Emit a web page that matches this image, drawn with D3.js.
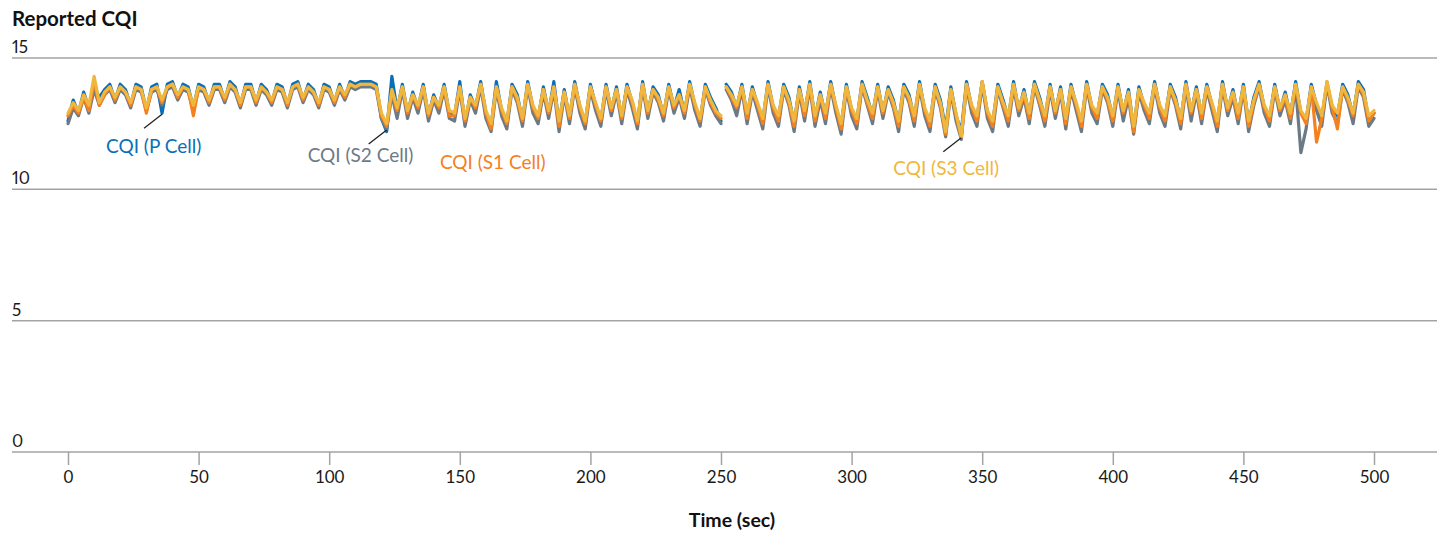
<!DOCTYPE html>
<html>
<head>
<meta charset="utf-8">
<script src="https://cdn.jsdelivr.net/npm/d3@7"></script>
<style>
  html, body { margin: 0; padding: 0; background: #fff; }
  svg { display: block; font-family: Lato, "Open Sans", sans-serif; }
</style>
</head>
<body>
<svg id="chart" width="1449" height="534"></svg>
<script>
// Sampling: one value every 2 s; the trace has a break between 250 s and 252 s.
const sampleStep = 2;
const segmentStarts = [0, 252];

const yTicks = [0, 5, 10, 15];
const xTicks = [0, 50, 100, 150, 200, 250, 300, 350, 400, 450, 500];

// CQI (P Cell)
const cqiP = [
  [12.6, 13.4, 12.9, 13.7, 13.1, 13.9, 13.5, 13.8, 14.0, 13.4,
   14.0, 13.8, 13.2, 14.0, 13.9, 13.0, 13.9, 14.0, 12.9, 14.0,
   14.1, 13.5, 14.0, 13.9, 13.1, 14.0, 13.9, 13.3, 14.0, 14.0,
   13.4, 14.1, 13.9, 13.2, 14.0, 14.0, 13.3, 14.0, 13.8, 13.3,
   14.0, 13.9, 13.2, 14.0, 14.1, 13.4, 14.0, 13.8, 13.2, 14.0,
   13.9, 13.3, 14.0, 13.5, 14.1, 14.0, 14.1, 14.1, 14.1, 14.0,
   12.7, 12.2, 14.3, 13.0, 14.0, 12.9, 13.7, 13.1, 14.0, 12.8,
   13.6, 13.1, 14.0, 12.9, 12.8, 14.1, 12.5, 13.6, 13.1, 14.1,
   12.9, 12.4, 14.1, 13.0, 12.5, 14.0, 13.6, 12.6, 14.1, 13.1,
   12.7, 13.9, 12.9, 14.1, 12.5, 13.8, 12.7, 14.1, 13.1, 12.5,
   14.0, 13.2, 12.6, 14.0, 13.0, 13.9, 12.7, 14.0, 13.3, 12.5,
   14.1, 12.9, 13.9, 13.6, 12.8, 14.0, 13.1, 13.8, 12.9, 14.1,
   13.2, 12.6, 14.0, 13.5, 13.1, 12.6],
  [14.0, 13.7, 13.1, 14.0, 12.8, 13.9, 13.2, 12.6, 14.1, 13.1,
   12.7, 14.0, 13.5, 12.5, 13.9, 12.9, 14.1, 12.7, 13.7, 12.8,
   14.1, 13.1, 12.4, 14.0, 13.0, 12.6, 14.1, 13.5, 12.8, 14.0,
   12.9, 13.9, 13.4, 12.5, 14.0, 13.6, 12.7, 14.1, 13.0, 12.5,
   14.0, 13.4, 12.3, 13.9, 12.8, 12.2, 14.1, 13.1, 12.7, 14.1,
   12.9, 12.5, 14.0, 13.4, 12.7, 14.1, 13.0, 13.8, 12.8, 14.1,
   13.5, 12.7, 14.0, 12.9, 13.9, 12.6, 14.0, 13.2, 12.5, 14.1,
   13.1, 12.8, 14.0, 13.6, 12.7, 14.0, 12.9, 13.8, 12.3, 13.9,
   13.2, 12.8, 14.1, 13.1, 12.7, 14.0, 13.5, 12.6, 14.1, 12.9,
   13.9, 12.8, 14.0, 13.2, 12.5, 14.1, 13.0, 13.8, 12.8, 14.0,
   12.5, 13.5, 14.1, 13.1, 12.7, 14.0, 13.0, 13.7, 12.8, 14.1,
   12.9, 12.6, 14.0, 13.2, 12.7, 14.0, 13.1, 12.8, 14.0, 13.6,
   12.8, 14.1, 13.8, 12.6, 12.9]
];

// CQI (S2 Cell)
const cqiS2 = [
  [12.5, 13.1, 12.8, 13.5, 12.9, 13.8, 13.2, 13.6, 13.8, 13.3,
   13.8, 13.6, 13.1, 13.8, 13.7, 13.0, 13.7, 13.8, 13.2, 13.8,
   13.9, 13.4, 13.8, 13.7, 13.0, 13.8, 13.7, 13.2, 13.8, 13.8,
   13.3, 13.9, 13.7, 13.1, 13.8, 13.8, 13.2, 13.8, 13.6, 13.2,
   13.8, 13.7, 13.1, 13.8, 13.9, 13.3, 13.8, 13.6, 13.1, 13.8,
   13.7, 13.2, 13.8, 13.4, 13.9, 13.8, 13.9, 13.9, 13.9, 13.8,
   12.7, 12.3, 13.6, 12.7, 13.8, 12.7, 13.5, 12.9, 13.8, 12.6,
   13.4, 12.9, 13.8, 12.7, 12.6, 13.8, 12.4, 13.4, 12.9, 13.9,
   12.7, 12.2, 13.8, 12.8, 12.3, 13.8, 13.3, 12.4, 13.9, 12.9,
   12.5, 13.7, 12.7, 13.8, 12.2, 13.6, 12.5, 13.9, 12.9, 12.3,
   13.8, 13.0, 12.4, 13.8, 12.8, 13.7, 12.5, 13.8, 13.1, 12.3,
   13.9, 12.7, 13.7, 13.3, 12.6, 13.8, 12.9, 13.5, 12.7, 13.9,
   13.0, 12.4, 13.8, 13.2, 12.8, 12.5],
  [13.8, 13.4, 12.8, 13.8, 12.5, 13.7, 13.0, 12.3, 13.9, 12.9,
   12.4, 13.8, 13.2, 12.2, 13.7, 12.6, 13.9, 12.4, 13.4, 12.5,
   13.9, 12.9, 12.1, 13.8, 12.8, 12.3, 13.9, 13.2, 12.5, 13.8,
   12.7, 13.7, 13.1, 12.2, 13.8, 13.3, 12.4, 13.9, 12.8, 12.2,
   13.8, 13.1, 12.0, 13.7, 12.6, 11.9, 13.9, 12.9, 12.4, 14.0,
   12.7, 12.2, 13.8, 13.1, 12.4, 13.9, 12.8, 13.5, 12.5, 13.9,
   13.2, 12.4, 13.8, 12.7, 13.7, 12.3, 13.8, 13.0, 12.2, 13.9,
   12.9, 12.5, 13.8, 13.3, 12.4, 13.8, 12.6, 13.5, 12.1, 13.7,
   13.0, 12.5, 13.9, 12.9, 12.4, 13.8, 13.2, 12.3, 13.9, 12.6,
   13.7, 12.5, 13.8, 13.0, 12.2, 13.9, 12.8, 13.5, 12.5, 13.8,
   12.2, 13.2, 13.9, 12.9, 12.4, 13.8, 12.8, 13.4, 12.5, 13.9,
   11.4, 12.3, 13.8, 13.0, 12.4, 14.0, 12.9, 12.5, 13.8, 13.3,
   12.5, 13.9, 13.5, 12.4, 12.7]
];

// CQI (S1 Cell)
const cqiS1 = [
  [12.8, 13.2, 12.9, 13.5, 13.0, 14.1, 13.2, 13.6, 13.9, 13.4,
   13.9, 13.7, 13.2, 13.9, 13.8, 12.9, 13.8, 13.9, 13.3, 13.9,
   14.0, 13.5, 13.9, 13.8, 12.8, 13.9, 13.8, 13.3, 13.9, 13.9,
   13.4, 14.0, 13.8, 13.2, 13.9, 13.9, 13.3, 13.9, 13.7, 13.3,
   13.9, 13.8, 13.2, 13.9, 14.0, 13.4, 13.9, 13.7, 13.2, 13.9,
   13.8, 13.3, 13.9, 13.5, 14.0, 13.9, 14.0, 14.0, 14.0, 13.9,
   12.8, 12.4, 13.7, 13.0, 13.9, 12.9, 13.6, 13.1, 13.9, 12.8,
   13.5, 13.1, 13.9, 12.8, 12.8, 13.9, 12.6, 13.5, 13.1, 14.0,
   12.9, 12.3, 13.9, 13.0, 12.5, 13.9, 13.4, 12.6, 14.0, 13.1,
   12.7, 13.8, 12.9, 13.9, 12.4, 13.7, 12.7, 14.0, 13.1, 12.5,
   13.9, 13.2, 12.6, 13.9, 13.0, 13.8, 12.7, 13.9, 13.3, 12.5,
   14.0, 12.9, 13.8, 13.4, 12.8, 13.9, 13.1, 13.6, 12.9, 14.0,
   13.2, 12.6, 13.9, 13.3, 12.9, 12.7],
  [13.9, 13.5, 13.1, 13.9, 12.7, 13.8, 13.2, 12.5, 14.0, 13.1,
   12.6, 13.9, 13.3, 12.4, 13.8, 12.8, 14.0, 12.6, 13.6, 12.7,
   14.0, 13.1, 12.3, 13.9, 13.0, 12.5, 14.0, 13.3, 12.7, 13.9,
   12.9, 13.8, 13.2, 12.4, 13.9, 13.4, 12.6, 14.0, 13.0, 12.4,
   13.9, 13.2, 12.1, 13.8, 12.8, 12.0, 14.0, 13.1, 12.6, 14.1,
   12.9, 12.4, 13.9, 13.2, 12.6, 14.0, 13.0, 13.6, 12.7, 14.0,
   13.3, 12.6, 13.9, 12.9, 13.8, 12.5, 13.9, 13.2, 12.4, 14.0,
   13.1, 12.7, 13.9, 13.4, 12.6, 13.9, 12.9, 13.6, 12.2, 13.8,
   13.2, 12.7, 14.0, 13.1, 12.6, 13.9, 13.3, 12.5, 14.0, 12.9,
   13.8, 12.7, 13.9, 13.2, 12.4, 14.0, 13.0, 13.6, 12.7, 13.9,
   12.4, 13.3, 14.0, 13.1, 12.6, 13.9, 13.0, 13.5, 12.7, 14.0,
   12.9, 12.5, 13.9, 11.8, 12.7, 14.1, 13.1, 12.3, 13.9, 13.4,
   12.8, 14.0, 13.6, 12.6, 12.9]
];

// CQI (S3 Cell)
const cqiS3 = [
  [12.9, 13.3, 13.0, 13.6, 13.2, 14.3, 13.3, 13.7, 13.9, 13.5,
   13.9, 13.7, 13.3, 13.9, 13.8, 13.1, 13.8, 13.9, 13.4, 13.9,
   14.0, 13.6, 13.9, 13.8, 13.2, 13.9, 13.8, 13.4, 13.9, 13.9,
   13.5, 14.0, 13.8, 13.3, 13.9, 13.9, 13.4, 13.9, 13.7, 13.4,
   13.9, 13.8, 13.3, 13.9, 14.0, 13.5, 13.9, 13.7, 13.3, 13.9,
   13.8, 13.4, 13.9, 13.6, 14.0, 13.9, 14.0, 14.0, 14.0, 13.9,
   12.9, 12.5, 13.8, 13.1, 13.9, 13.0, 13.6, 13.2, 13.9, 12.9,
   13.5, 13.2, 13.9, 13.0, 12.9, 13.9, 12.7, 13.5, 13.2, 14.0,
   13.0, 12.5, 13.9, 13.1, 12.6, 13.9, 13.5, 12.7, 14.0, 13.2,
   12.8, 13.8, 13.0, 13.9, 12.6, 13.7, 12.8, 14.0, 13.2, 12.6,
   13.9, 13.3, 12.7, 13.9, 13.1, 13.8, 12.8, 13.9, 13.4, 12.6,
   14.0, 13.0, 13.8, 13.5, 12.9, 13.9, 13.2, 13.6, 13.0, 14.0,
   13.3, 12.7, 13.9, 13.4, 13.0, 12.8],
  [13.9, 13.6, 13.2, 13.9, 12.9, 13.8, 13.3, 12.7, 14.0, 13.2,
   12.8, 13.9, 13.4, 12.6, 13.8, 13.0, 14.0, 12.8, 13.6, 12.9,
   14.0, 13.2, 12.5, 13.9, 13.1, 12.7, 14.0, 13.4, 12.9, 13.9,
   13.0, 13.8, 13.3, 12.6, 13.9, 13.5, 12.8, 14.0, 13.1, 12.6,
   13.9, 13.3, 12.2, 13.8, 12.9, 12.0, 14.0, 13.2, 12.8, 14.1,
   13.0, 12.6, 13.9, 13.3, 12.8, 14.0, 13.1, 13.7, 12.9, 14.0,
   13.4, 12.8, 13.9, 13.0, 13.8, 12.7, 13.9, 13.3, 12.6, 14.0,
   13.2, 12.9, 13.9, 13.5, 12.8, 13.9, 13.0, 13.7, 12.4, 13.8,
   13.3, 12.9, 14.0, 13.2, 12.8, 13.9, 13.4, 12.7, 14.0, 13.0,
   13.8, 12.9, 13.9, 13.3, 12.6, 14.0, 13.1, 13.7, 12.9, 13.9,
   12.6, 13.4, 14.0, 13.2, 12.8, 13.9, 13.1, 13.6, 12.9, 14.0,
   13.0, 12.7, 13.9, 13.3, 12.8, 14.1, 13.2, 12.9, 13.9, 13.5,
   12.9, 14.0, 13.7, 12.8, 13.0]
];

const seriesNames = ["CQI (P Cell)", "CQI (S2 Cell)", "CQI (S1 Cell)", "CQI (S3 Cell)"];
const seriesValues = [cqiP, cqiS2, cqiS1, cqiS3];
const seriesColors = ["#0a6fb7", "#6c7a85", "#f5801f", "#f0b73e"];

// Callouts: which series, which time sample the leader points at, label placement.
const callouts = [
  { series: 0, t: 36,  leader: true,  dx: -56, dy: 40 },
  { series: 1, t: 122, leader: true,  dx: -79, dy: 33 },
  { series: 2, t: 160, leader: false, dx: -46, dy: 56 },
  { series: 3, t: 342, leader: true,  dx: -68, dy: 38 }
];

const svg = d3.select("#chart");

const x = d3.scaleLinear().domain([0, 500]).range([68, 1374]);
const y = d3.scaleLinear().domain([0, 15]).range([452, 58]);
const gridLeft = 12, gridRight = 1437;

// Horizontal gridlines with their labels sitting on top at the left edge
const grid = svg.append("g");
grid.selectAll("line").data(yTicks).join("line")
  .attr("x1", gridLeft).attr("x2", gridRight)
  .attr("y1", d => y(d)).attr("y2", d => y(d))
  .attr("stroke", "#a3a3a3").attr("stroke-width", 1.5);
grid.selectAll("text").data(yTicks).join("text")
  .attr("x", gridLeft).attr("y", d => y(d) - 5)
  .attr("font-size", 17).attr("fill", "#1a1a1a")
  .style("font-variant-numeric", "proportional-nums")
  .text(d => d);

// Time axis
const xAxis = d3.axisBottom(x).tickValues(xTicks).tickSize(13).tickPadding(6).tickFormat(d3.format("d"));
const gx = svg.append("g").attr("transform", `translate(0,${y(0)})`).call(xAxis);
gx.select(".domain").remove();
gx.selectAll(".tick line").attr("stroke", "#a3a3a3").attr("stroke-width", 1.5);
gx.selectAll(".tick text").attr("font-size", 17).attr("fill", "#1a1a1a")
  .attr("font-family", "Lato, 'Open Sans', sans-serif");

// Title and axis label
svg.append("text").attr("x", 12).attr("y", 26)
  .attr("font-size", 20.5).attr("font-weight", 700).attr("fill", "#111")
  .text("Reported CQI");
svg.append("text").attr("x", 732).attr("y", 527)
  .attr("text-anchor", "middle")
  .attr("font-size", 19.5).attr("font-weight", 700).attr("fill", "#111")
  .text("Time (sec)");

// Series traces, one path per continuous segment
const line = d3.line().x(d => x(d.t)).y(d => y(d.v));
const toPoints = (segments) => segments.map((seg, si) =>
  seg.map((v, i) => ({ t: segmentStarts[si] + i * sampleStep, v })));

const traces = svg.append("g").attr("fill", "none")
  .attr("stroke-linejoin", "round").attr("stroke-linecap", "round");
seriesValues.forEach((segs, k) => {
  toPoints(segs).forEach(pts => {
    traces.append("path").datum(pts)
      .attr("d", line)
      .attr("stroke", seriesColors[k])
      .attr("stroke-width", 3.2);
  });
});

// Callout labels and leader lines
const valueAt = (k, t) => toPoints(seriesValues[k]).flat().find(p => p.t === t);
const ann = svg.append("g");
callouts.forEach(c => {
  const p = valueAt(c.series, c.t);
  const px = x(p.t), py = y(p.v);
  if (c.leader) {
    ann.append("line")
      .attr("x1", px).attr("y1", py + 1)
      .attr("x2", px - 18).attr("y2", py + 15)
      .attr("stroke", "#222").attr("stroke-width", 1.3);
  }
  ann.append("text")
    .attr("x", px + c.dx).attr("y", py + c.dy)
    .attr("font-size", 19).attr("fill", seriesColors[c.series])
    .text(seriesNames[c.series]);
});
</script>
</body>
</html>
